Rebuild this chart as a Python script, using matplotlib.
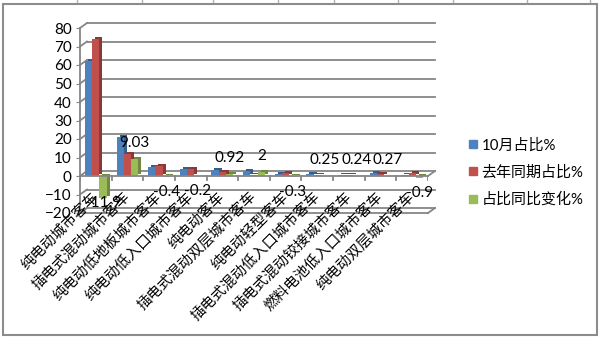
import matplotlib
matplotlib.use('Agg')
import matplotlib.pyplot as plt
from matplotlib.transforms import ScaledTranslation
from matplotlib.lines import Line2D
from matplotlib.patches import Rectangle

plt.rcParams['font.family'] = ['Lato', 'Noto Sans CJK SC', 'DejaVu Sans']

# data
categories = ['纯电动城市客车', '插电式混动城市客车', '纯电动低地板城市客车',
              '纯电动低入口城市客车', '纯电动客车', '插电式混动双层城市客车',
              '纯电动轻型客车', '插电式混动低入口城市客车', '插电式混动铰接城市客车',
              '燃料电池低入口城市客车', '纯电动双层城市客车']
share_oct = [62.0, 21.1, 5.1, 3.7, 3.0, 2.5, 1.3, 0.9, 0.8, 1.4, 0.5]
share_last_year = [73.9, 12.07, 5.5, 3.9, 2.08, 0.5, 1.6, 0.65, 0.56, 1.13, 1.4]
share_change = [-11.9, 9.03, -0.4, -0.2, 0.92, 2, -0.3, 0.25, 0.24, 0.27, -0.9]
series_names = ['10月占比%', '去年同期占比%', '占比同比变化%']
yticks = list(range(-20, 81, 10))

colors = ['#4F81BD', '#C0504D', '#9BBB59']
sides = ['#385D8A', '#8C3836', '#71893F']
grid_c = '#868686'

DPI = 100
fig = plt.figure(figsize=(6, 3.38), dpi=DPI)
ax = fig.add_axes([80 / 600, 1 - 213 / 338, 348 / 600, 185 / 338])
ax.set_xlim(-0.5, len(categories) - 0.5)
ax.set_ylim(-20, 80)
for s in ax.spines.values():
    s.set_visible(False)
ax.set_xticks([])
ax.set_yticks(yticks)
ax.tick_params(axis='y', length=3, color=grid_c, labelsize=11, pad=3)

# pseudo 3d: back wall offset
back = ax.transData + ScaledTranslation(7 / DPI, 5 / DPI, fig.dpi_scale_trans)
x0, x1 = -0.5, len(categories) - 0.5
inv = ax.transData.inverted()
for t in yticks:
    ax.plot([x0, x1], [t, t], color=grid_c, lw=1.3, transform=back,
            clip_on=False, zorder=1)
    p = ax.transData.transform((x0, t))
    q = inv.transform((p[0] + 7, p[1] + 5))
    ax.plot([x0, q[0]], [t, q[1]], color=grid_c, lw=1.3, clip_on=False, zorder=1)
# left edge and floor front edges
ax.plot([x0, x0], [-20, 80], color=grid_c, lw=1.3, clip_on=False, zorder=1)
for yy in (0, -20):
    ax.plot([x0, x1], [yy, yy], color=grid_c, lw=1.3, clip_on=False, zorder=4)
    p = ax.transData.transform((x1, yy))
    q = inv.transform((p[0] + 7, p[1] + 5))
    ax.plot([x1, q[0]], [yy, q[1]], color=grid_c, lw=1.3, clip_on=False, zorder=4)
for i in range(len(categories) + 1):
    p = ax.transData.transform((i - 0.5, 0))
    q = inv.transform((p[0], p[1] - 4))
    ax.plot([i - 0.5, i - 0.5], [0, q[1]], color=grid_c, lw=1.3, zorder=4)

# bars
w = 0.23
x = list(range(len(categories)))
side = ax.transData + ScaledTranslation(3 / DPI, 2 / DPI, fig.dpi_scale_trans)
all_series = [share_oct, share_last_year, share_change]
for k, vals in enumerate(all_series):
    xs = [xi + (k - 1) * w for xi in x]
    ax.bar(xs, vals, w, color=sides[k], transform=side, zorder=2)
for k, vals in enumerate(all_series):
    xs = [xi + (k - 1) * w for xi in x]
    ax.bar(xs, vals, w, color=colors[k], zorder=3)

# data labels on change series
px = 185 / 100  # pixels per unit
for xi, v in zip(x, share_change):
    if v >= 0:
        yl = v + 16 / px
    else:
        yl = max(v - 15 / px, -14.5)
    ax.text(xi + w, yl, '%g' % v, ha='center', va='center', fontsize=11,
            zorder=5)

# category labels
for xi, c in zip(x, categories):
    ax.text(xi + 0.17, -7.3, c, rotation=45, ha='right', va='top',
            fontsize=10.5, family=['Noto Sans CJK SC'], zorder=5)

handles = [Line2D([], [], ls='none', marker='s', ms=6, color=c) for c in colors]
fig.legend(handles, series_names, loc='upper left',
           bbox_to_anchor=(462 / 600, 1 - 132 / 338), frameon=False,
           fontsize=10.8, handlelength=0.6, handletextpad=0.3, labelspacing=0.85,
           borderaxespad=0)

fig.patches.append(Rectangle((3 / 600, 3 / 338), 594 / 600, 331 / 338,
                             transform=fig.transFigure, fill=False,
                             ec='#8c8c8c', lw=1.5))
for cx in [77, 142, 213, 278, 334, 398, 453, 527, 590]:
    fig.lines.append(Line2D([cx / 600, cx / 600], [1 - 2 / 338, 1],
                            transform=fig.transFigure, color='#b0b0b0', lw=1))

fig.savefig('out.png', dpi=DPI, facecolor='white')
